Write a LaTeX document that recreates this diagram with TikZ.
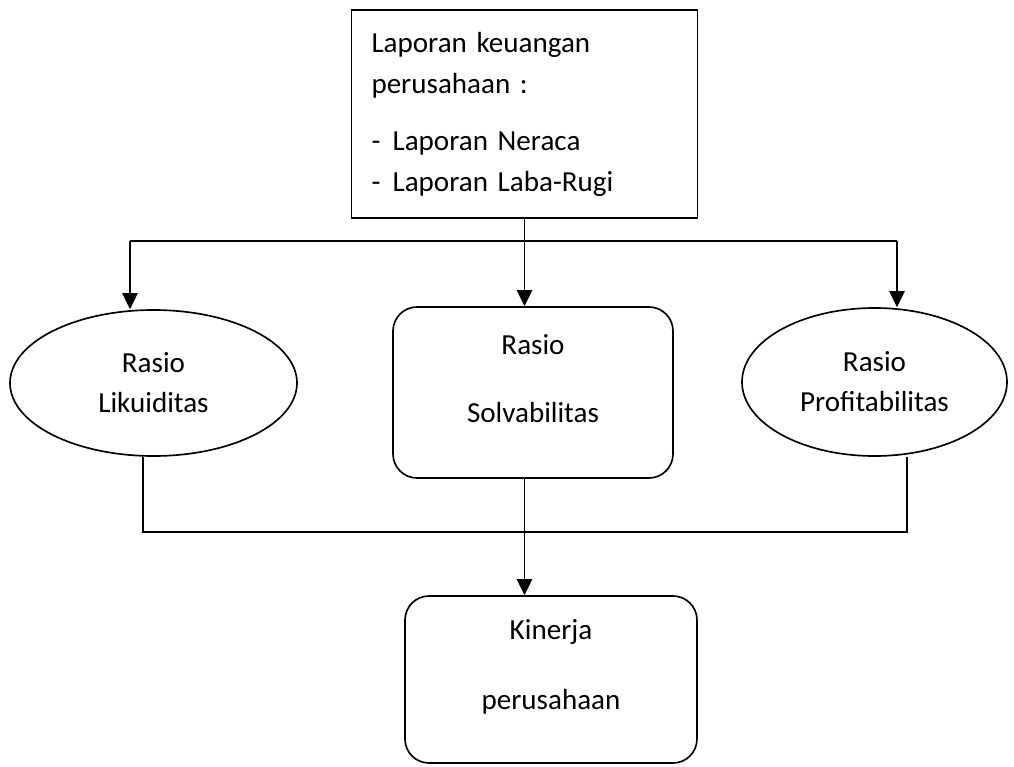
\documentclass[tikz,border=0pt]{standalone}
\usepackage{fontspec}
\setmainfont{Carlito}
\usetikzlibrary{arrows.meta,shapes.geometric,calc}
\tikzset{
	teks/.style={font=\fontsize{21.8}{30}\selectfont, align=center, inner sep=0pt},
	oval/.style={draw, ellipse, line width=1.25pt, inner sep=0pt, font=\fontsize{21.8}{30}\selectfont, align=center},
	kotak/.style={draw, rounded corners=18pt, line width=1.25pt, inner sep=0pt},
	garis/.style={line width=1.25pt},
	panah/.style={line width=1.25pt, -{Triangle[width=11.5pt,length=12pt]}}
}

\begin{document}
\begin{tikzpicture}[x=0.75pt, y=-0.75pt]
			%%%%% START %%%%%
			\useasboundingbox (0,0) rectangle (1014,767);
			
			% laporan keuangan
			\node[draw, line width=1.25pt, minimum width=259.5pt, minimum height=156pt, text width=229.5pt, inner xsep=15pt, align=left, font=\fontsize{21.8}{30.75}\selectfont] (lap) at (524.5, 114) {Laporan keuangan\\perusahaan :\\[12pt]-\hspace{0.42em}Laporan Neraca\\-\hspace{0.42em}Laporan Laba-Rugi};
			
			% tiga rasio
			\node[oval, minimum width=215.25pt, minimum height=109.5pt] (lik) at (153.5, 383) {Rasio\\Likuiditas};
			\node[kotak, minimum width=210pt, minimum height=128.25pt] (solv) at (533, 392.5) {};
			\node[teks, font=\fontsize{21.8}{51}\selectfont] (solvtxt) at (533, 379) {Rasio\\Solvabilitas};
			\node[oval, minimum width=198.75pt, minimum height=111pt] (prof) at (874.5, 382) {Rasio\\Profitabilitas};
			
			% kinerja
			\node[kotak, minimum width=219pt, minimum height=125.25pt] (kin) at (551, 679.5) {};
			\node[teks, font=\fontsize{21.8}{52.5}\selectfont] (kintxt) at (551, 667) {Kinerja\\perusahaan};
			
			% garis atas
			\coordinate (hl) at (130, 241);
			\coordinate (hr) at (897, 241);
			\draw[garis] (hl) -- (hr);
			\draw[panah] (lap.south) -- (lap.south |- solv.north);
			\draw[panah] (hl) -- (hl |- lik.north);
			\draw[panah] (hr) -- (hr |- prof.north);
			
			% garis bawah
			\coordinate (bl) at (143, 532);
			\coordinate (br) at (907, 532);
			\draw[garis] (bl |- lik.south) -- (bl) -- (br) -- (br |- prof.south);
			\draw[panah] (lap.south |- solv.south) -- (lap.south |- kin.north);
			
			%%%%% END %%%%%
\end{tikzpicture}
\end{document}
